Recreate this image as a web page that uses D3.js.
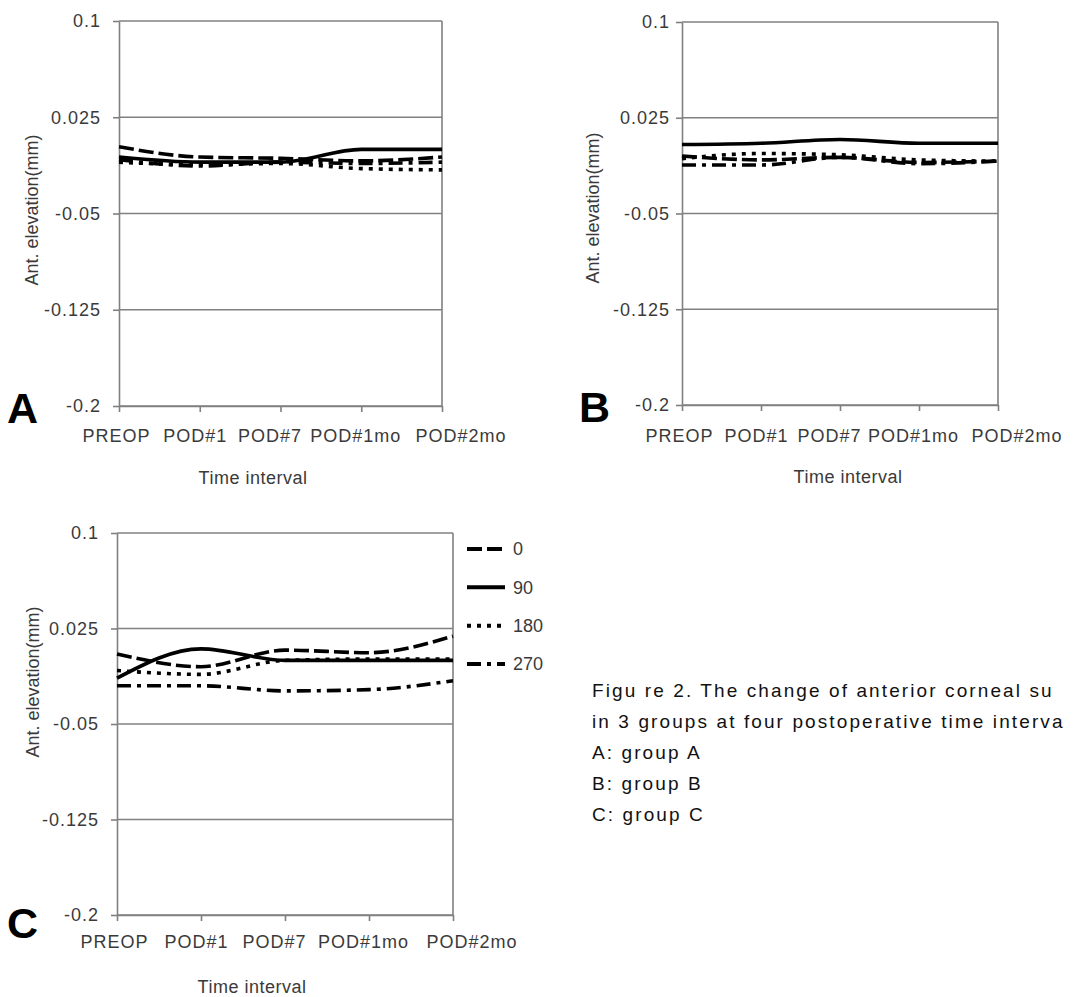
<!DOCTYPE html>
<html><head><meta charset="utf-8">
<script src="https://cdn.jsdelivr.net/npm/d3@7"></script>
<style>
html,body{margin:0;padding:0;background:#fff;overflow:hidden;}
svg{display:block;}
.lbl{font-family:"Liberation Sans",Arial,sans-serif;fill:#3a3a3a;}
</style></head><body><div id="fig"></div>
<script>
/* categories, ticks and series (anterior elevation, mm) */
var timeLabels=["PREOP","POD#1","POD#7","POD#1mo","POD#2mo"];
var yTicks=[0.1,0.025,-0.05,-0.125,-0.2];
var seriesNames=["0","90","180","270"];

var groupA0  =[0.002,-0.006,-0.007,-0.009,-0.006];
var groupA90 =[-0.006,-0.010,-0.010,0.000,0.000];
var groupA180=[-0.010,-0.012,-0.011,-0.015,-0.016];
var groupA270=[-0.008,-0.013,-0.010,-0.011,-0.010];

var groupB0  =[-0.005,-0.008,-0.006,-0.010,-0.009];
var groupB90 =[0.004,0.005,0.008,0.005,0.005];
var groupB180=[-0.007,-0.003,-0.004,-0.008,-0.009];
var groupB270=[-0.012,-0.012,-0.006,-0.011,-0.009];

var groupC0  =[0.005,-0.005,0.008,0.006,0.019];
var groupC90 =[-0.014,0.009,0.000,0.000,0.000];
var groupC180=[-0.008,-0.011,0.000,0.001,0.001];
var groupC270=[-0.020,-0.020,-0.024,-0.023,-0.016];

var captionLines=["Figu re 2. The change of anterior corneal su",
    "in 3 groups at four postoperative time interva",
    "A: group A","B: group B","C: group C"];

/* line styles per series, label nudges per tick */
var dashFor={"0":"15,5","90":null,"180":"4,6","270":"14,6,4,6"};
var labelDx=[-3,-5,-11,-6,-27];

var W=1074,H=997;
var svg=d3.select("#fig").append("svg").attr("width",W).attr("height",H);
var GRID="#808080";

function drawPanel(p,rows){
    var x=d3.scalePoint().domain(timeLabels).range([p.x0,p.x1]);
    var y=d3.scaleLinear().domain([-0.2,0.1]).range([p.y1,p.y0]);
    var g=svg.append("g");

    g.selectAll("line.grid").data(yTicks).enter().append("line").attr("class","grid")
        .attr("x1",p.x0).attr("x2",p.x1).attr("y1",function(d){return y(d);}).attr("y2",function(d){return y(d);})
        .attr("stroke",GRID).attr("stroke-width",1.6);
    g.append("line").attr("x1",p.x1).attr("x2",p.x1).attr("y1",p.y0).attr("y2",p.y1)
        .attr("stroke",GRID).attr("stroke-width",1.6);

    var ya=g.append("g").attr("transform","translate("+p.x0+",0)")
        .call(d3.axisLeft(y).tickValues(yTicks).tickSize(6).tickSizeOuter(0).tickPadding(p.pad)
        .tickFormat(function(d){return String(d);}));
    var xa=g.append("g").attr("transform","translate(0,"+p.y1+")")
        .call(d3.axisBottom(x).tickSize(6).tickSizeOuter(0).tickPadding(p.xpad));
    [ya,xa].forEach(function(a){
        a.select(".domain").attr("stroke",GRID).attr("stroke-width",1.6);
        a.selectAll(".tick line").attr("stroke",GRID).attr("stroke-width",1.6);
        a.selectAll(".tick text").attr("class","lbl").style("font-size","18px").style("letter-spacing","1px");
    });
    var last=timeLabels.length-1;
    xa.selectAll(".tick text").attr("dx",function(d,i){return labelDx[i];})
        .attr("text-anchor",function(d,i){return i===last?"start":"middle";});

    var line=d3.line().x(function(d,i){return x(timeLabels[i]);}).y(function(d){return y(d);})
        .curve(d3.curveMonotoneX);
    seriesNames.forEach(function(s,k){
        g.append("path").datum(rows[k]).attr("d",line).attr("fill","none")
            .attr("stroke","#000").attr("stroke-width",3.6)
            .attr("stroke-dasharray",dashFor[s]);
    });

    g.append("text").attr("class","lbl").attr("transform","translate("+p.ytx+","+p.yty+") rotate(-90)")
        .attr("text-anchor","middle").attr("dy","0.35em").style("font-size","18px").text("Ant. elevation(mm)");
    g.append("text").attr("class","lbl").attr("x",p.ttx).attr("y",p.tty).attr("text-anchor","middle")
        .attr("dy","0.35em").style("font-size","18px").style("letter-spacing","0.5px").text("Time interval");
    g.append("text").attr("x",p.lx).attr("y",p.ly).style("font-family","Liberation Sans,Arial,sans-serif")
        .style("font-weight","bold").style("font-size","43px").attr("fill","#000").text(p.letter);
    return {x:x,y:y,g:g};
}

drawPanel({x0:119,x1:442,y0:21,y1:406,pad:12,xpad:17,ytx:32,yty:210,ttx:253,tty:478,lx:7,ly:423,letter:"A"},
    [groupA0,groupA90,groupA180,groupA270]);
drawPanel({x0:682,x1:998,y0:22,y1:405,pad:6,xpad:18,ytx:593,yty:208,ttx:848,tty:477,lx:579,ly:422,letter:"B"},
    [groupB0,groupB90,groupB180,groupB270]);
drawPanel({x0:117,x1:453,y0:533,y1:915,pad:12,xpad:14,ytx:33,yty:682,ttx:252,tty:987,lx:7,ly:938,letter:"C"},
    [groupC0,groupC90,groupC180,groupC270]);

/* legend for panel C */
var legY=d3.scalePoint().domain(seriesNames).range([549,664]);
var leg=svg.append("g");
seriesNames.forEach(function(s){
    leg.append("line").attr("x1",467).attr("x2",505).attr("y1",legY(s)).attr("y2",legY(s))
        .attr("stroke","#000").attr("stroke-width",4).attr("stroke-dasharray",dashFor[s]);
    leg.append("text").attr("class","lbl").attr("x",513).attr("y",legY(s)).attr("dy","0.35em")
        .style("font-size","18px").text(s);
});

/* caption */
svg.append("g").selectAll("text").data(captionLines).enter().append("text")
    .attr("x",592).attr("y",function(d,i){return 697+i*31;})
    .style("font-family","Liberation Sans,Arial,sans-serif").style("font-size","19px")
    .style("letter-spacing","2.1px").attr("fill","#111").text(function(d){return d;});
</script></body></html>
